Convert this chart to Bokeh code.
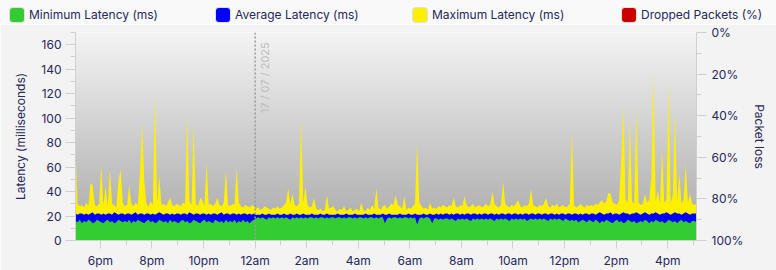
from math import pi
import numpy as np
import pandas as pd
from bokeh.plotting import figure
from bokeh.layouts import column
from bokeh.models import (Range1d, LinearAxis, FixedTicker, Span, Div,
                          Label, PrintfTickFormatter, ColumnDataSource)
from bokeh.embed import file_html
from bokeh.resources import INLINE

# ---------------- data ----------------
start_time = "2025-07-16 17:02"
sample_step = "5min"

max_latency = [
    75, 30, 28, 29, 27, 31, 28, 47, 45, 29, 28, 30, 62, 29, 44, 28, 58, 30, 29, 27, 49, 58, 31, 28,
    29, 45, 30, 28, 31, 29, 55, 96, 49, 30, 28, 32, 29, 119, 31, 53, 29, 30, 28, 31, 35, 29, 28, 30,
    29, 28, 31, 30, 103, 32, 29, 94, 30, 28, 35, 33, 28, 64, 29, 30, 28, 30, 35, 29, 28, 31, 57, 29,
    28, 30, 29, 59, 31, 28, 27, 29, 28, 27, 29, 28, 26, 27, 25, 26, 28, 27, 26, 25, 27, 26, 28, 26,
    27, 29, 31, 43, 30, 38, 29, 28, 30, 100, 31, 44, 29, 27, 28, 35, 26, 25, 26, 24, 25, 37, 26, 27,
    28, 25, 24, 26, 25, 28, 24, 25, 27, 24, 25, 26, 24, 31, 25, 24, 27, 25, 29, 26, 43, 27, 25, 28,
    29, 26, 28, 30, 29, 37, 29, 28, 26, 36, 25, 27, 26, 28, 30, 80, 31, 28, 26, 27, 25, 31, 26, 27,
    26, 28, 27, 29, 28, 27, 29, 28, 35, 28, 27, 29, 28, 36, 29, 27, 28, 30, 27, 28, 29, 27, 28, 30,
    28, 29, 40, 30, 28, 27, 29, 48, 30, 28, 27, 29, 28, 30, 33, 28, 27, 29, 28, 30, 42, 29, 28, 27,
    29, 28, 30, 35, 28, 27, 29, 28, 30, 27, 28, 29, 27, 28, 30, 90, 29, 27, 28, 30, 28, 27, 29, 28,
    29, 28, 30, 29, 31, 33, 30, 32, 39, 38, 31, 30, 29, 33, 66, 109, 34, 31, 98, 32, 30, 109, 31, 29,
    30, 38, 31, 33, 52, 135, 32, 41, 30, 75, 31, 33, 129, 30, 38, 105, 32, 55, 30, 33, 63, 31, 38, 30,
    29, 30,
]

avg_latency = [
    22, 21, 22, 22, 21, 22, 21, 22, 23, 21, 22, 22, 21, 22, 21, 22, 22, 21, 23, 22, 21, 22, 22, 21,
    22, 22, 21, 22, 23, 21, 22, 22, 21, 22, 22, 21, 22, 21, 22, 23, 22, 21, 22, 22, 21, 22, 21, 22,
    22, 21, 22, 22, 21, 23, 22, 21, 22, 22, 21, 22, 22, 21, 22, 21, 22, 22, 21, 22, 23, 21, 22, 22,
    21, 22, 22, 21, 22, 21, 22, 22, 21, 22, 21, 22, 21, 21, 21, 22, 21, 21, 22, 21, 21, 21, 22, 21,
    21, 22, 21, 21, 22, 21, 21, 22, 21, 21, 22, 21, 21, 21, 22, 21, 21, 21, 22, 21, 21, 22, 21, 21,
    21, 21, 22, 21, 21, 21, 22, 21, 21, 21, 22, 21, 21, 21, 21, 22, 21, 21, 21, 22, 21, 21, 21, 22,
    21, 21, 22, 21, 21, 21, 21, 22, 21, 21, 21, 22, 21, 21, 22, 21, 21, 21, 22, 21, 21, 22, 21, 21,
    22, 21, 22, 21, 22, 22, 21, 22, 21, 22, 22, 21, 22, 21, 22, 22, 21, 22, 22, 21, 22, 21, 22, 22,
    21, 22, 22, 21, 22, 21, 22, 22, 21, 22, 22, 21, 22, 22, 21, 22, 21, 22, 22, 21, 22, 22, 21, 22,
    22, 21, 22, 22, 21, 22, 22, 21, 22, 21, 22, 22, 21, 22, 22, 21, 22, 22, 21, 22, 21, 22, 22, 21,
    22, 22, 21, 22, 23, 22, 21, 22, 22, 23, 21, 22, 22, 21, 22, 23, 22, 22, 21, 22, 22, 23, 22, 21,
    22, 23, 22, 21, 22, 22, 23, 22, 21, 22, 22, 23, 22, 21, 22, 23, 22, 22, 21, 22, 23, 22, 21, 22,
    22, 22,
]

min_latency = [
    16, 15, 17, 14, 16, 15, 17, 16, 14, 15, 17, 16, 15, 14, 16, 17, 15, 16, 14, 15, 17, 16, 15, 16,
    15, 17, 14, 16, 15, 17, 16, 15, 14, 16, 17, 15, 16, 14, 15, 17, 16, 15, 16, 14, 17, 15, 16, 15,
    14, 16, 17, 15, 16, 14, 15, 17, 16, 15, 14, 16, 17, 15, 16, 15, 14, 17, 16, 15, 16, 14, 17, 15,
    16, 15, 17, 14, 16, 15, 17, 15, 16, 14, 16, 17, 18, 19, 18, 19, 18, 17, 19, 18, 19, 18, 19, 18,
    19, 18, 19, 18, 17, 19, 18, 19, 18, 19, 18, 19, 18, 19, 19, 18, 19, 18, 19, 19, 18, 19, 18, 19,
    19, 18, 19, 19, 18, 19, 18, 19, 19, 18, 19, 18, 19, 19, 18, 19, 18, 19, 19, 18, 19, 18, 19, 19,
    14, 18, 19, 18, 19, 19, 18, 19, 18, 19, 19, 18, 19, 18, 19, 13, 18, 19, 18, 19, 19, 18, 14, 18,
    18, 17, 18, 17, 18, 18, 17, 18, 17, 16, 18, 17, 18, 17, 18, 17, 16, 18, 17, 18, 17, 18, 17, 18,
    17, 18, 17, 16, 18, 17, 18, 17, 18, 17, 16, 18, 17, 18, 17, 18, 17, 18, 16, 17, 18, 17, 18, 17,
    18, 17, 18, 17, 16, 18, 17, 18, 17, 18, 17, 16, 18, 17, 16, 17, 16, 17, 15, 16, 17, 16, 15, 17,
    16, 15, 17, 16, 14, 16, 15, 17, 16, 15, 14, 16, 17, 15, 16, 14, 15, 17, 16, 15, 16, 14, 15, 16,
    15, 17, 16, 14, 16, 15, 17, 16, 15, 16, 14, 15, 17, 16, 15, 16, 14, 16, 17, 15, 16, 15, 14, 16,
    16, 15,
]

dropped_packets = [0] * len(max_latency)   # no packet loss visible in the chart

tick_labels = ["6pm", "8pm", "10pm", "12am", "2am", "4am", "6am", "8am", "10am", "12pm", "2pm", "4pm"]
first_tick = "2025-07-16 18:00"
midnight = "2025-07-17 00:00"
date_text = "17 / 07 / 2025"
series_names = ["Minimum Latency (ms)", "Average Latency (ms)", "Maximum Latency (ms)", "Dropped Packets (%)"]

# ---------------- styling ----------------
NAVY = "#26285a"
FONT = "Inter"
FS = "12px"
GREEN, BLUE, YELLOW, RED = "#33cc33", "#0000ff", "#fff000", "#cc0000"
series_colors = [GREEN, BLUE, YELLOW, RED]
legend_left = [10, 216, 413, 622]   # px position of each legend entry

times = pd.date_range(start_time, periods=len(max_latency), freq=sample_step)
src = ColumnDataSource(dict(t=times, mn=min_latency, av=avg_latency, mx=max_latency, dp=dropped_packets))

def ms(ts):
    return pd.Timestamp(ts).value / 1e6

x0, x1 = ms(times[0]), ms(times[-1])

p = figure(width=776, height=246, x_axis_type="datetime",
           x_range=Range1d(x0, x1), y_range=Range1d(0, 170),
           output_backend="svg", toolbar_location=None,
           min_border_left=75, min_border_right=80, min_border_top=8, min_border_bottom=30)
p.extra_y_ranges = {"loss": Range1d(100, 0)}
p.border_fill_color = "#f3f3f3"
p.outline_line_color = None
p.grid.visible = False

# background gradient of plot area
n_rows = 256
shade = np.linspace(168, 244, n_rows).astype(np.uint8)
img = np.empty((n_rows, 1), dtype=np.uint32)
view = img.view(dtype=np.uint8).reshape((n_rows, 1, 4))
view[:, 0, 0] = shade
view[:, 0, 1] = shade
view[:, 0, 2] = shade
view[:, 0, 3] = 255
p.image_rgba(image=[img], x=x0, y=0, dw=x1 - x0, dh=170)

r_max = p.varea(x="t", y1=0, y2="mx", source=src, fill_color=YELLOW)
r_avg = p.varea(x="t", y1=0, y2="av", source=src, fill_color=BLUE)
r_min = p.varea(x="t", y1=0, y2="mn", source=src, fill_color=GREEN)
r_dp = p.varea(x="t", y1=0, y2="dp", source=src, fill_color=RED, y_range_name="loss")

# midnight marker
p.add_layout(Span(location=ms(midnight), dimension="height", line_color="#9a9a9a",
                  line_dash="2 2", line_width=1.5))
p.add_layout(Label(x=ms(midnight), y=104, text=date_text, angle=pi / 2, x_offset=3,
                   text_align="left", text_baseline="top", text_color="#bdbdbd",
                   text_font=FONT, text_font_size="11px"))

def style_axis(ax, out_major, out_minor):
    ax.axis_line_color = "#cfcfcf"
    ax.major_tick_line_color = "#cfcfcf"
    ax.minor_tick_line_color = "#cfcfcf"
    ax.major_tick_in = 0
    ax.minor_tick_in = 0
    ax.major_tick_out = out_major
    ax.minor_tick_out = out_minor
    ax.major_label_text_color = NAVY
    ax.major_label_text_font = FONT
    ax.major_label_text_font_size = FS
    ax.axis_label_text_color = NAVY
    ax.axis_label_text_font = FONT
    ax.axis_label_text_font_size = FS
    ax.axis_label_text_font_style = "normal"

# x axis
major_ms = [ms(t) for t in pd.date_range(first_tick, periods=len(tick_labels), freq="2h")]
minor_ms = [ms(t) for t in pd.date_range(times[0].floor("h"), times[-1], freq="1h")]
xa = p.xaxis[0]
xa.ticker = FixedTicker(ticks=major_ms, minor_ticks=minor_ms)
xa.major_label_overrides = {m: lab for m, lab in zip(major_ms, tick_labels)}
style_axis(xa, 8, 5)
xa.major_label_standoff = 4

# left axis
ya = p.yaxis[0]
ya.ticker = FixedTicker(ticks=list(range(0, 161, 20)), minor_ticks=list(range(10, 171, 20)))
ya.axis_label = "Latency (milliseconds)"
style_axis(ya, 10, 5)
ya.major_label_standoff = 4
ya.axis_label_standoff = 10

# right axis
ra = LinearAxis(y_range_name="loss", axis_label="Packet loss",
                ticker=FixedTicker(ticks=list(range(0, 101, 20)), minor_ticks=list(range(10, 100, 20))),
                formatter=PrintfTickFormatter(format="%d%%"))
style_axis(ra, 10, 5)
ra.major_label_standoff = 5
ra.axis_label_standoff = 6
p.add_layout(ra, "right")

# ---------------- legend strip (HTML) ----------------
parts = []
for name, col, left in zip(series_names, series_colors, legend_left):
    parts.append(
        f'<span style="position:absolute;left:{left}px;top:8px;width:14px;height:14px;'
        f'border-radius:3px;background:{col};box-shadow:0 0 0 1px rgba(0,0,0,0.10);"></span>'
        f'<span style="position:absolute;left:{left + 19}px;top:6px;line-height:18px;'
        f'white-space:nowrap;">{name}</span>')
html = ('<div style="position:relative;width:776px;height:24px;background:#f9f9f9;'
        f'font-family:{FONT};font-size:{FS};color:{NAVY};">' + "".join(parts) + '</div>')
legend_div = Div(text=html, width=776, height=24, margin=(0, 0, 0, 0))

layout = column(legend_div, p, spacing=0)
open("out.html", "w").write(file_html(layout, INLINE))
